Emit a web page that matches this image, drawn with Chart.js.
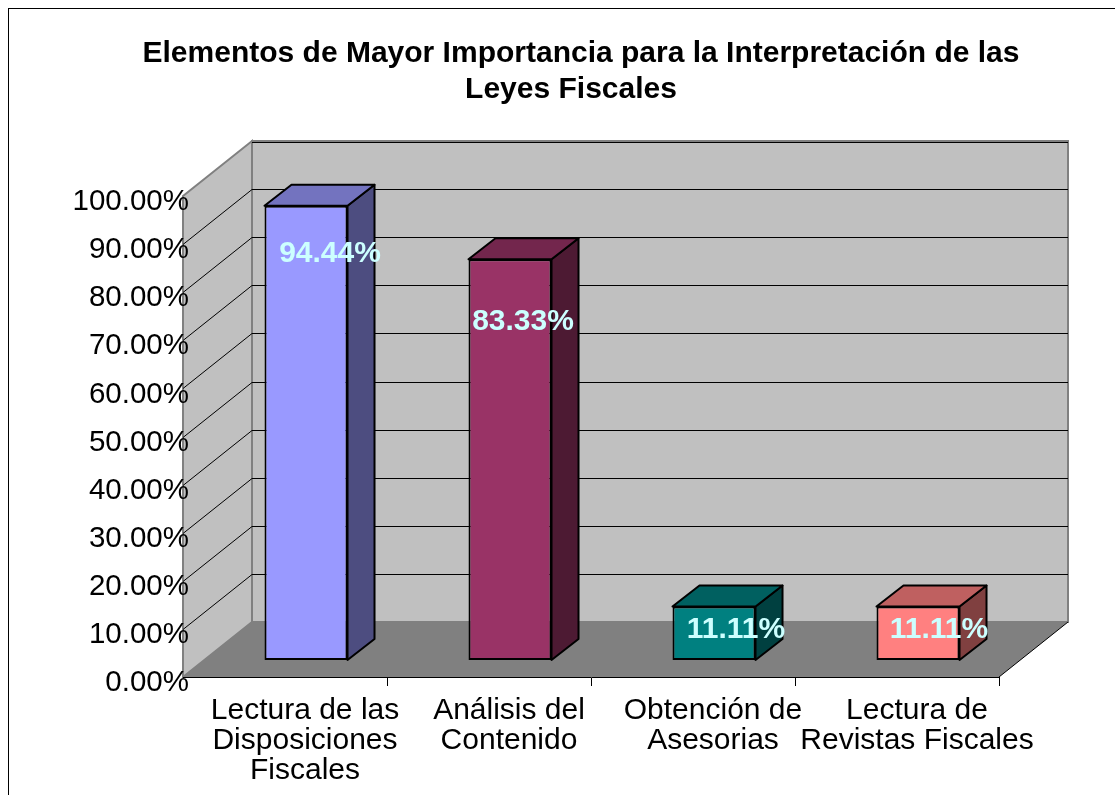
<!DOCTYPE html>
<html><head><meta charset="utf-8">
<style>html,body{margin:0;padding:0;background:#fff;overflow:hidden}#w{width:1115px;height:795px;position:relative}</style>
<script src="https://cdn.jsdelivr.net/npm/chart.js@4/dist/chart.umd.min.js"></script>
</head><body><div id="w"><canvas id="c" width="1115" height="795"></canvas></div>
<script>
const titleLine1 = 'Elementos de Mayor Importancia para la Interpretación de las';
const titleLine2 = 'Leyes Fiscales';
const categories = [['Lectura de las','Disposiciones','Fiscales'],['Análisis del','Contenido'],['Obtención de','Asesorias'],['Lectura de','Revistas Fiscales']];
const values = [94.44,83.33,11.11,11.11];
const frontColors = ['#9999FF','#993366','#008080','#FF8080'];
const sideColors = ['#4D4D80','#4D1A33','#004040','#804040'];
const topColors = ['#7373BF','#73264D','#006060','#BF6060'];
const labelShiftX = [24,13,22,21];
const labelShiftY = [48,63,23,23];

const DEPTH = {x:69, y:-55};       // wall depth
const BAR_FRONT = {x:21, y:-17};   // bar's front plane
const BAR_DEPTH = {x:27, y:-21};   // bar's thickness
const FONT = '"Liberation Sans", Arial, sans-serif';

function poly(ctx, pts, fill, stroke, lw){
  ctx.beginPath();
  pts.forEach((p,i)=> i?ctx.lineTo(p[0],p[1]):ctx.moveTo(p[0],p[1]));
  ctx.closePath();
  if(fill){ctx.fillStyle=fill;ctx.fill();}
  if(stroke){ctx.strokeStyle=stroke;ctx.lineWidth=lw||1;ctx.stroke();}
}
const threeD = {
  id:'threeD',
  afterLayout(chart){
    // let the value labels overlap the side wall without being clipped to the axis box
    const y=chart.scales.y;
    y.left=0; y.right=200; y.width=200;
    // widen the title blocks so the long line is not squeezed
    const t=chart.titleBlock;
    t.left=47; t.right=chart.width; t.width=t.right-t.left;
    const s=chart.boxes.find(b=>b.options&&b.options.text===titleLine2);
    if(s){ s.left=27; s.right=chart.width; s.width=s.right-s.left; }
  },
  beforeDraw(chart){
    const {ctx, scales:{x,y}} = chart;
    const L=x.left, R=x.right, B=y.getPixelForValue(0), T=y.getPixelForValue(100);
    const dx=DEPTH.x, dy=DEPTH.y;
    ctx.save();
    ctx.fillStyle='#fff';ctx.fillRect(0,0,chart.width,chart.height);
    // frame
    ctx.strokeStyle='#000';ctx.lineWidth=1;
    ctx.strokeRect(8.5,8.5,chart.width+20,chart.height+20);
    // back wall
    poly(ctx,[[L+dx,T+dy],[R+dx,T+dy],[R+dx,B+dy],[L+dx,B+dy]],'#C0C0C0','#808080',2);
    // side wall
    poly(ctx,[[L,T],[L+dx,T+dy],[L+dx,B+dy],[L,B]],'#C0C0C0','#808080',2);
    // grid lines
    ctx.strokeStyle='#000';ctx.lineWidth=1;
    y.ticks.forEach(t=>{
      if(t.value===0) return;
      const p=Math.round(y.getPixelForValue(t.value))+.5;
      ctx.beginPath();
      if(t.value===100){ctx.moveTo(L+dx,p+dy+1);ctx.lineTo(R+dx,p+dy+1);}
      else{ctx.moveTo(L,p);ctx.lineTo(L+dx,p+dy);ctx.lineTo(R+dx,p+dy);}
      ctx.stroke();
    });
    // floor
    poly(ctx,[[L,B],[L+dx,B+dy],[R+dx,B+dy],[R,B]],'#808080');
    ctx.strokeStyle='#000';ctx.lineWidth=1;
    ctx.beginPath();ctx.moveTo(R,B);ctx.lineTo(R+dx,B+dy);ctx.stroke();
    ctx.restore();
  },
  beforeDatasetDraw(chart,args){
    const {ctx}=chart;
    const meta=args.meta;
    ctx.save();
    ctx.translate(BAR_FRONT.x,BAR_FRONT.y);
    ctx.lineJoin='round';
    const bx=BAR_DEPTH.x, by=BAR_DEPTH.y;
    meta.data.forEach((el,i)=>{
      const p=el.getProps(['x','y','base','width'],true);
      const l=p.x-p.width/2, r=p.x+p.width/2;
      poly(ctx,[[r,p.y],[r+bx,p.y+by],[r+bx,p.base+by],[r,p.base]],sideColors[i],'#000',2);
      poly(ctx,[[l,p.y],[l+bx,p.y+by],[r+bx,p.y+by],[r,p.y]],topColors[i],'#000',2);
    });
  },
  afterDatasetDraw(chart){ chart.ctx.restore(); },
  afterDatasetsDraw(chart,args){
    const {ctx}=chart;
    const meta=chart.getDatasetMeta(0);
    ctx.save();
    ctx.font='bold 30px '+FONT;
    ctx.fillStyle='#CCFFFF';ctx.textAlign='center';ctx.textBaseline='middle';
    meta.data.forEach((el,i)=>{
      const p=el.getProps(['x','y'],true);
      ctx.fillText(values[i].toFixed(2)+'%',p.x+BAR_FRONT.x+labelShiftX[i],p.y+BAR_FRONT.y+labelShiftY[i]);
    });
    ctx.restore();
  }
};
new Chart(document.getElementById('c'),{
  type:'bar',
  plugins:[threeD],
  data:{labels:categories,datasets:[{data:values,backgroundColor:frontColors,borderColor:'#000',borderWidth:2,borderSkipped:false,clip:false,
    categoryPercentage:1,barPercentage:0.407}]},
  options:{
    responsive:false,animation:false,
    layout:{autoPadding:false,padding:{left:163,right:116,top:0,bottom:0}},
    plugins:{legend:{display:false},tooltip:{enabled:false},
      title:{display:true,text:titleLine1,color:'#000',font:{family:FONT,size:30,weight:'bold',lineHeight:1.2},padding:{top:36,bottom:0}},
      subtitle:{display:true,text:titleLine2,color:'#000',font:{family:FONT,size:30,weight:'bold',lineHeight:1.2},padding:{top:0,bottom:88}}},
    scales:{
      x:{offset:true,
        afterFit(s){s.height=118;s.paddingLeft=0;s.paddingRight=0;},
        grid:{drawOnChartArea:false,drawTicks:true,tickLength:9,offset:true,color:'#000',tickColor:c=>c.index===0?'rgba(0,0,0,0)':'#000'},
        border:{color:'#000',width:1},
        ticks:{color:'#000',autoSkip:false,maxRotation:0,minRotation:0,padding:10,labelOffset:20,font:{family:FONT,size:30,lineHeight:1}}},
      y:{min:0,max:100,
        afterFit(s){s.width=20;},
        grid:{display:false,drawTicks:false},
        border:{display:false},
        ticks:{stepSize:10,color:'#000',padding:11,labelOffset:6,callback:v=>v.toFixed(2)+'%',font:{family:FONT,size:29.5}}}
    }
  }
});
</script></body></html>
